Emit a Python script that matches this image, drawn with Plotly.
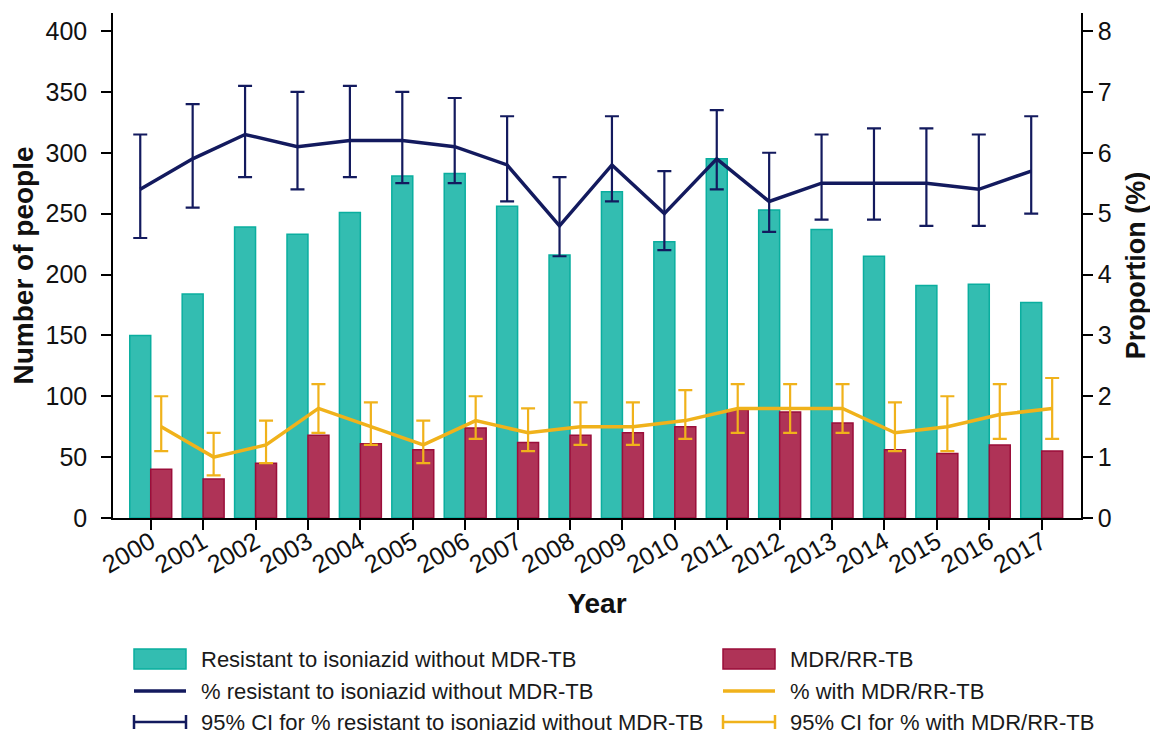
import plotly.graph_objects as go

years = [str(y) for y in range(2000, 2018)]
inh_resistant = [150, 184, 239, 233, 251, 281, 283, 256, 216, 268, 227, 295, 253, 237, 215, 191, 192, 177]
mdr_rr = [40, 32, 45, 68, 61, 56, 74, 62, 68, 70, 75, 89, 87, 78, 56, 53, 60, 55]

pct_inh = [5.4, 5.9, 6.3, 6.1, 6.2, 6.2, 6.1, 5.8, 4.8, 5.8, 5.0, 5.9, 5.2, 5.5, 5.5, 5.5, 5.4, 5.7]
pct_inh_hi = [6.3, 6.8, 7.1, 7.0, 7.1, 7.0, 6.9, 6.6, 5.6, 6.6, 5.7, 6.7, 6.0, 6.3, 6.4, 6.4, 6.3, 6.6]
pct_inh_lo = [4.6, 5.1, 5.6, 5.4, 5.6, 5.5, 5.5, 5.2, 4.3, 5.2, 4.4, 5.4, 4.7, 4.9, 4.9, 4.8, 4.8, 5.0]

pct_mdr = [1.5, 1.0, 1.2, 1.8, 1.5, 1.2, 1.6, 1.4, 1.5, 1.5, 1.6, 1.8, 1.8, 1.8, 1.4, 1.5, 1.7, 1.8]
pct_mdr_hi = [2.0, 1.4, 1.6, 2.2, 1.9, 1.6, 2.0, 1.8, 1.9, 1.9, 2.1, 2.2, 2.2, 2.2, 1.9, 2.0, 2.2, 2.3]
pct_mdr_lo = [1.1, 0.7, 0.9, 1.4, 1.2, 0.9, 1.3, 1.1, 1.2, 1.2, 1.3, 1.4, 1.4, 1.4, 1.1, 1.1, 1.3, 1.3]

legend_labels = [
    "Resistant to isoniazid without MDR-TB", "MDR/RR-TB",
    "% resistant to isoniazid without MDR-TB", "% with MDR/RR-TB",
    "95% CI for % resistant to isoniazid without MDR-TB", "95% CI for % with MDR/RR-TB",
]

TEAL, TEAL_LINE = "#33BDB1", "#0AAE9F"
CRIMSON, CRIMSON_LINE = "#AF3357", "#9B0E3A"
NAVY = "#131A5E"
GOLD = "#F0B21B"
FONT = "Liberation Sans, Arial, sans-serif"

fig = go.Figure()
fig.add_trace(go.Bar(x=years, y=inh_resistant, name=legend_labels[0], offsetgroup="a",
                     marker=dict(color=TEAL, line=dict(color=TEAL_LINE, width=1.5)), showlegend=False))
fig.add_trace(go.Bar(x=years, y=mdr_rr, name=legend_labels[1], offsetgroup="b",
                     marker=dict(color=CRIMSON, line=dict(color=CRIMSON_LINE, width=1.5)), showlegend=False))

def err(v, hi, lo):
    return dict(type="data", symmetric=False,
                array=[h - x for h, x in zip(hi, v)],
                arrayminus=[x - l for l, x in zip(lo, v)])

fig.add_trace(go.Scatter(x=years, y=pct_inh, yaxis="y2", mode="lines", name=legend_labels[2],
                         offsetgroup="a", orientation="v",
                         line=dict(color=NAVY, width=3.5),
                         error_y=dict(**err(pct_inh, pct_inh_hi, pct_inh_lo), color=NAVY, thickness=2.2, width=7),
                         showlegend=False))
fig.add_trace(go.Scatter(x=years, y=pct_mdr, yaxis="y2", mode="lines", name=legend_labels[3],
                         offsetgroup="b", orientation="v",
                         line=dict(color=GOLD, width=3.5),
                         error_y=dict(**err(pct_mdr, pct_mdr_hi, pct_mdr_lo), color=GOLD, thickness=2.2, width=7),
                         showlegend=False))

# page offset (browser body margin) and plot area in reference pixels
OFF = 8
FIG_W, FIG_H = 1158 - OFF, 735 - OFF
L, R, T, B = 113, 1081, 13, 518
W, H = R - L, B - T

def px(x):
    return (x - L) / W

def py(y):
    return (B - y) / H

shapes = []
annotations = []
cols = [(134, 186, 200), (723, 775, 789)]
rows = [659, 691, 722]
kinds = [("rect", TEAL, TEAL_LINE), ("rect", CRIMSON, CRIMSON_LINE),
         ("line", NAVY, None), ("line", GOLD, None),
         ("ci", NAVY, None), ("ci", GOLD, None)]
for i, label in enumerate(legend_labels):
    r, c = divmod(i, 2)
    x0, x1, xt = cols[c]
    yc = rows[r]
    kind, col, lc = kinds[i]
    if kind == "rect":
        shapes.append(dict(type="rect", xref="paper", yref="paper", x0=px(x0), x1=px(x1),
                           y0=py(yc - 10), y1=py(yc + 10), fillcolor=col, line=dict(color=lc, width=1.5)))
    elif kind == "line":
        shapes.append(dict(type="line", xref="paper", yref="paper", x0=px(x0), x1=px(x1),
                           y0=py(yc), y1=py(yc), line=dict(color=col, width=3.5)))
    else:
        shapes.append(dict(type="line", xref="paper", yref="paper", x0=px(x0), x1=px(x1),
                           y0=py(yc), y1=py(yc), line=dict(color=col, width=2.5)))
        for xx in (x0, x1):
            shapes.append(dict(type="line", xref="paper", yref="paper", x0=px(xx), x1=px(xx),
                               y0=py(yc - 7), y1=py(yc + 7), line=dict(color=col, width=2.5)))
    annotations.append(dict(text=label, xref="paper", yref="paper", x=px(xt), y=py(yc),
                            xanchor="left", yanchor="middle", showarrow=False, borderpad=0,
                            font=dict(size=22, color="#1a1a1a", family=FONT)))

axis_common = dict(showline=True, linecolor="black", linewidth=1.5, ticks="outside",
                   ticklen=10, tickwidth=1.5, tickcolor="black", showgrid=False, zeroline=False,
                   tickfont=dict(size=25, color="#111", family=FONT))
title_font = dict(size=28, family=FONT, color="#111")

fig.update_layout(
    width=FIG_W, height=FIG_H,
    margin=dict(l=L - OFF, r=1158 - R, t=T - OFF, b=735 - B),
    paper_bgcolor="white", plot_bgcolor="white",
    font=dict(family=FONT, color="#111"),
    barmode="group", bargap=0.2, bargroupgap=0,
    scattermode="group", scattergap=0.2,
    showlegend=False,
    xaxis=dict(type="category", range=[-0.72, 17.75], tickangle=-30, ticklabelstandoff=-12,
               title=dict(text="<b>Year</b>", font=title_font, standoff=16),
               **axis_common),
    yaxis=dict(range=[0, 414.8], dtick=50, ticklabelstandoff=9,
               title=dict(text="<b>Number of people</b>", font=title_font, standoff=11),
               **axis_common),
    yaxis2=dict(range=[0, 8.296], dtick=1, overlaying="y", side="right",
                title=dict(text="<b>Proportion (%)</b>", font=dict(size=27, family=FONT, color="#111"),
                           standoff=15),
                **axis_common),
    shapes=shapes,
    annotations=annotations,
)

fig.write_html("out.html")
